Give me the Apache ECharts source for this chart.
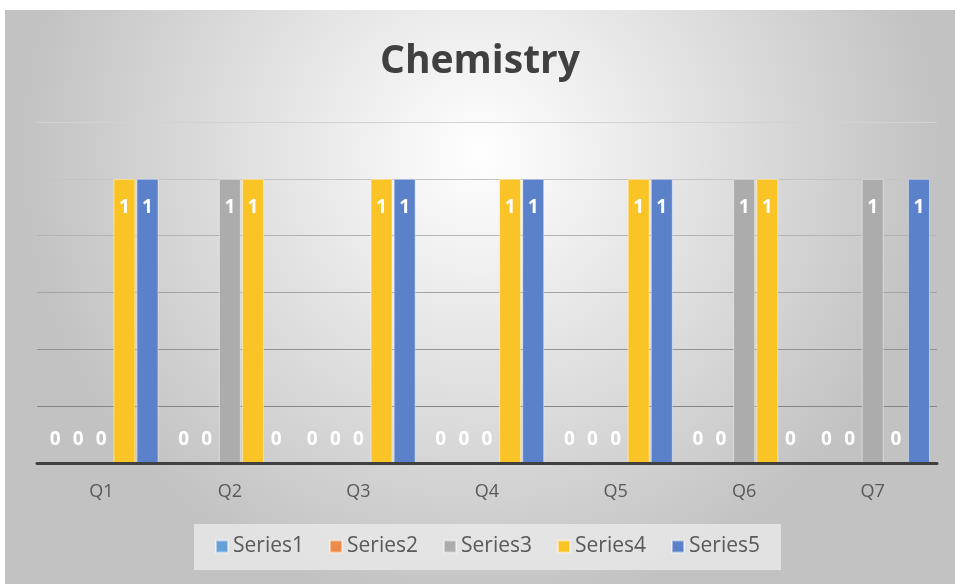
<!DOCTYPE html>
<html>
<head>
<meta charset="utf-8">
<script src="https://cdn.jsdelivr.net/npm/echarts@6/dist/echarts.min.js"></script>
<style>
  html, body { margin: 0; padding: 0; background: #fff; }
  #chart { position: absolute; left: 5px; top: 10px; width: 950px; height: 574px; }
</style>
</head>
<body>
<div id="chart"></div>
<script>
const categories = ["Q1", "Q2", "Q3", "Q4", "Q5", "Q6", "Q7"];
const seriesNames = ["Series1", "Series2", "Series3", "Series4", "Series5"];
const series1 = [0, 0, 0, 0, 0, 0, 0];
const series2 = [0, 0, 0, 0, 0, 0, 0];
const series3 = [0, 1, 0, 0, 0, 1, 1];
const series4 = [1, 1, 1, 1, 1, 1, 0];
const series5 = [1, 0, 1, 1, 1, 0, 1];
const colors = ["#66a0d6", "#ee8a48", "#acacac", "#fbc426", "#5a81c9"];

const font = "'Open Sans', sans-serif";

function buildData(values) {
  // zero bars get their label above the baseline, like Excel's inside-end labels
  return values.map(function(v) {
    return {
      value: v,
      itemStyle: v === 0 ? { borderWidth: 0 } : undefined,
      label: v === 0
        ? { position: "top", distance: 14 }
        : { position: "insideTop", distance: 19 },
    };
  });
}

const chart = echarts.init(document.getElementById("chart"));
chart.setOption({
  backgroundColor: {
    type: "radial",
    x: 0.5, y: 0.25, r: 0.8,
    colorStops: [
      { offset: 0, color: "#ffffff" },
      { offset: 1, color: "#c2c2c2" },
    ],
  },
  color: colors,
  title: {
    text: "Chemistry",
    left: "center",
    top: 27,
    textStyle: { fontFamily: font, fontWeight: "bold", fontSize: 39, color: "#404040" },
  },
  legend: {
    data: seriesNames,
    left: 189,
    top: 514,
    icon: "rect",
    itemWidth: 12,
    itemHeight: 12,
    itemGap: 25,
    padding: [12, 21, 13, 21],
    backgroundColor: "rgba(236,236,236,0.75)",
    textStyle: { fontFamily: font, fontSize: 21, color: "#595959" },
  },
  grid: { left: 32, right: 18, top: 112, bottom: 121 },
  xAxis: {
    type: "category",
    data: categories,
    z: 5,
    axisLine: { lineStyle: { color: "#404040", width: 3 } },
    axisTick: { show: false },
    axisLabel: { fontFamily: font, fontSize: 18, color: "#595959", margin: 20 },
  },
  yAxis: {
    type: "value",
    min: 0,
    max: 1.2,
    interval: 0.2,
    axisLabel: { show: false },
    axisLine: { show: false },
    axisTick: { show: false },
    splitLine: {
      lineStyle: {
        color: ["#8a8a8a", "#858585", "#939393", "#a3a3a3", "#b3b3b3", "#c3c3c3", "#d2d2d2"],
        width: 1,
      },
    },
  },
  series: [series1, series2, series3, series4, series5].map(function(values, i) {
    return {
      name: seriesNames[i],
      type: "bar",
      data: buildData(values),
      barGap: "5%",
      barCategoryGap: "11%",
      itemStyle: { borderColor: "rgba(255,255,255,0.45)", borderWidth: 1 },
      label: {
        show: true,
        color: "#ffffff",
        fontFamily: font,
        fontWeight: "bold",
        fontSize: 19,
      },
    };
  }),
});
</script>
</body>
</html>
